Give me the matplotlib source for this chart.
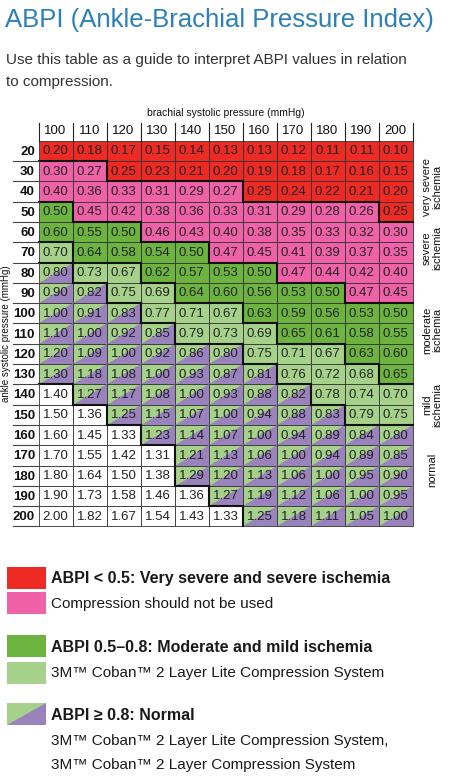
import numpy as np
import matplotlib
matplotlib.use("Agg")
import matplotlib.pyplot as plt
from matplotlib.patches import Rectangle, Polygon

plt.rcParams['font.family'] = ['Liberation Sans', 'DejaVu Sans']

brachial = [100, 110, 120, 130, 140, 150, 160, 170, 180, 190, 200]
ankle = [20, 30, 40, 50, 60, 70, 80, 90, 100, 110, 120, 130, 140, 150, 160, 170, 180, 190, 200]
abpi = [
    [0.20, 0.18, 0.17, 0.15, 0.14, 0.13, 0.13, 0.12, 0.11, 0.11, 0.10],
    [0.30, 0.27, 0.25, 0.23, 0.21, 0.20, 0.19, 0.18, 0.17, 0.16, 0.15],
    [0.40, 0.36, 0.33, 0.31, 0.29, 0.27, 0.25, 0.24, 0.22, 0.21, 0.20],
    [0.50, 0.45, 0.42, 0.38, 0.36, 0.33, 0.31, 0.29, 0.28, 0.26, 0.25],
    [0.60, 0.55, 0.50, 0.46, 0.43, 0.40, 0.38, 0.35, 0.33, 0.32, 0.30],
    [0.70, 0.64, 0.58, 0.54, 0.50, 0.47, 0.45, 0.41, 0.39, 0.37, 0.35],
    [0.80, 0.73, 0.67, 0.62, 0.57, 0.53, 0.50, 0.47, 0.44, 0.42, 0.40],
    [0.90, 0.82, 0.75, 0.69, 0.64, 0.60, 0.56, 0.53, 0.50, 0.47, 0.45],
    [1.00, 0.91, 0.83, 0.77, 0.71, 0.67, 0.63, 0.59, 0.56, 0.53, 0.50],
    [1.10, 1.00, 0.92, 0.85, 0.79, 0.73, 0.69, 0.65, 0.61, 0.58, 0.55],
    [1.20, 1.09, 1.00, 0.92, 0.86, 0.80, 0.75, 0.71, 0.67, 0.63, 0.60],
    [1.30, 1.18, 1.08, 1.00, 0.93, 0.87, 0.81, 0.76, 0.72, 0.68, 0.65],
    [1.40, 1.27, 1.17, 1.08, 1.00, 0.93, 0.88, 0.82, 0.78, 0.74, 0.70],
    [1.50, 1.36, 1.25, 1.15, 1.07, 1.00, 0.94, 0.88, 0.83, 0.79, 0.75],
    [1.60, 1.45, 1.33, 1.23, 1.14, 1.07, 1.00, 0.94, 0.89, 0.84, 0.80],
    [1.70, 1.55, 1.42, 1.31, 1.21, 1.13, 1.06, 1.00, 0.94, 0.89, 0.85],
    [1.80, 1.64, 1.50, 1.38, 1.29, 1.20, 1.13, 1.06, 1.00, 0.95, 0.90],
    [1.90, 1.73, 1.58, 1.46, 1.36, 1.27, 1.19, 1.12, 1.06, 1.00, 0.95],
    [2.00, 1.82, 1.67, 1.54, 1.43, 1.33, 1.25, 1.18, 1.11, 1.05, 1.00],
]
zone_labels = ["very severe\nischemia", "severe\nischemia", "moderate\nischemia", "mild\nischemia", "normal"]

RED, PINK, DGREEN, LGREEN, PURPLE = "#ee2a24", "#f062a8", "#6db33f", "#a6d18a", "#9a82bd"
BLUE = "#2b80b9"

def category(v):
    if v <= 0.25: return 0
    if v < 0.5: return 1
    if v < 0.655: return 2
    if v < 0.8: return 3
    if v <= 1.30: return 4
    return 5

fig = plt.figure(figsize=(4.51, 7.81), dpi=100)
ax = fig.add_axes([0, 0, 1, 1])
ax.set_xlim(0, 451)
ax.set_ylim(781, 0)
ax.axis("off")

x0, y0, cw, rh = 38.5, 140.7, 34.0, 20.3
vals = np.array(abpi)
cats = np.vectorize(category)(vals)
fills = {0: RED, 1: PINK, 2: DGREEN, 3: LGREEN, 4: LGREEN, 5: "white"}

for i in range(len(ankle)):
    for j in range(len(brachial)):
        l, t = x0 + j * cw, y0 + i * rh
        c = cats[i, j]
        ax.add_patch(Rectangle((l, t), cw, rh, facecolor=fills[c], edgecolor="#333333", lw=0.6))
        if c == 4:
            ax.add_patch(Polygon([(l, t + rh), (l + cw, t + rh), (l + cw, t)],
                                 facecolor=PURPLE, edgecolor="none"))
        ax.text(l + cw / 2, t + rh / 2 + 0.5, f"{vals[i, j]:.2f}", ha="center", va="center",
                fontsize=9.5, color="#222222")

# thick borders between zones
for i in range(len(ankle)):
    for j in range(len(brachial)):
        l, t = x0 + j * cw, y0 + i * rh
        if j + 1 < len(brachial) and cats[i, j] != cats[i, j + 1]:
            ax.plot([l + cw, l + cw], [t, t + rh], color="#111111", lw=1.5, solid_capstyle="projecting")
        if i + 1 < len(ankle) and cats[i, j] != cats[i + 1, j]:
            ax.plot([l, l + cw], [t + rh, t + rh], color="#111111", lw=1.5, solid_capstyle="projecting")

# headers
for j, b in enumerate(brachial):
    ax.text(x0 + j * cw + cw / 2, 131, str(b), ha="center", va="center", fontsize=9.5, color="#111111")
    ax.plot([x0 + j * cw, x0 + j * cw], [123, y0], color="#222222", lw=0.8)
ax.plot([x0 + 11 * cw] * 2, [123, y0], color="#222222", lw=0.8)
for i, a in enumerate(ankle):
    ax.text(35, y0 + i * rh + rh / 2 + 1, str(a), ha="right", va="center", fontsize=9.5,
            fontweight="bold", color="#111111")
    ax.plot([13, x0], [y0 + (i + 1) * rh] * 2, color="#444444", lw=0.8)
ax.text(x0 + 5.5 * cw, 113, "brachial systolic pressure (mmHg)", ha="center", va="center",
        fontsize=7.5, color="#111111")
ax.text(6, y0 + 9.5 * rh, "ankle systolic pressure (mmHg)", ha="center", va="center",
        rotation=90, fontsize=7, color="#111111")

zone_y = [187, 248, 330, 405, 470]
for lab, zy in zip(zone_labels, zone_y):
    ax.text(432, zy, lab, rotation=90, ha="center", va="center", fontsize=8,
            color="#111111", linespacing=0.95)

# title
ax.text(5, 20, "ABPI (Ankle-Brachial Pressure Index)", ha="left", va="center",
        fontsize=18.5, color=BLUE)
ax.text(6, 60, "Use this table as a guide to interpret ABPI values in relation", ha="left",
        va="center", fontsize=11, color="#333333")
ax.text(6, 82, "to compression.", ha="left", va="center", fontsize=11, color="#333333")

# legend
def box(y, color, tri=False):
    ax.add_patch(Rectangle((7, y), 39, 22, facecolor=color, edgecolor="none"))
    if tri:
        ax.add_patch(Polygon([(7, y + 22), (46, y + 22), (46, y)], facecolor=PURPLE, edgecolor="none"))

box(567, RED); box(592, PINK)
box(635, DGREEN); box(662, LGREEN)
box(703, LGREEN, tri=True)
legend_lines = [
    (579, "ABPI < 0.5: Very severe and severe ischemia", True),
    (604, "Compression should not be used", False),
    (647, "ABPI 0.5\u20130.8: Moderate and mild ischemia", True),
    (673, "3M\u2122 Coban\u2122 2 Layer Lite Compression System", False),
    (716, "ABPI \u2265 0.8: Normal", True),
    (741, "3M\u2122 Coban\u2122 2 Layer Lite Compression System,", False),
    (765, "3M\u2122 Coban\u2122 2 Layer Compression System", False),
]
for y, s, bold in legend_lines:
    ax.text(51, y, s, ha="left", va="center", fontsize=11.5 if bold else 11, color="#1a1a1a",
            fontweight="bold" if bold else "normal")

fig.savefig("out.png", dpi=100)
